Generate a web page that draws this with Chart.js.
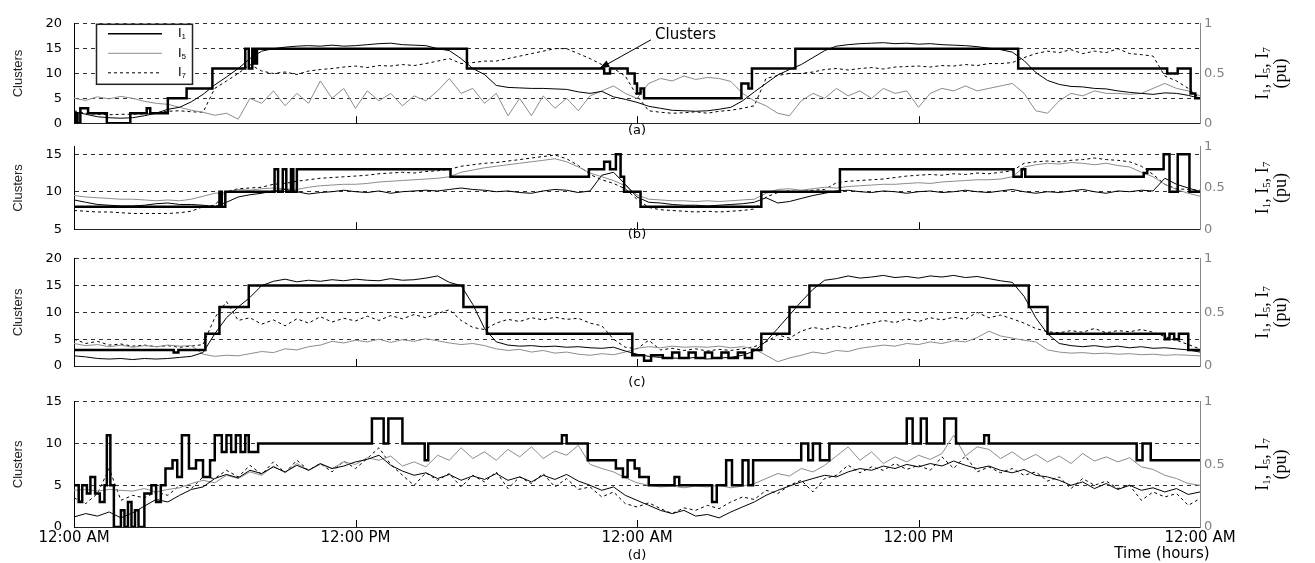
<!DOCTYPE html>
<html lang="en">
<head>
    <meta charset="UTF-8">
    <title>Clusters and harmonic currents</title>
    <script src="https://cdn.jsdelivr.net/npm/chart.js"></script>
    <style>
        body { margin: 0; background: #fff; }
        #wrap { position: relative; width: 1315px; height: 563px; overflow: hidden; }
        #wrap canvas { position: absolute; left: 0; }
    </style>
</head>
<body>
<div id="wrap">
    <canvas id="chartA" width="1315" height="139" style="top:4px"></canvas>
    <canvas id="chartB" width="1315" height="122" style="top:127px"></canvas>
    <canvas id="chartC" width="1315" height="153" style="top:239px"></canvas>
    <canvas id="chartD" width="1315" height="181" style="top:382px"></canvas>
</div>
<script>
    // time axis (hours from the first midnight)
    var hours = [0,0.5,1,1.5,2,2.5,3,3.5,4,4.5,5,5.5,6,6.5,7,7.5,8,8.5,9,9.5,10,10.5,11,11.5,
        12,12.5,13,13.5,14,14.5,15,15.5,16,16.5,17,17.5,18,18.5,19,19.5,20,20.5,21,21.5,22,22.5,23,23.5,
        24,24.5,25,25.5,26,26.5,27,27.5,28,28.5,29,29.5,30,30.5,31,31.5,32,32.5,33,33.5,34,34.5,35,35.5,
        36,36.5,37,37.5,38,38.5,39,39.5,40,40.5,41,41.5,42,42.5,43,43.5,44,44.5,45,45.5,46,46.5,47,47.5,48];
    var timeTicks = [0, 12, 24, 36, 48];
    var timeTickLabels = ["12:00 AM", "12:00 PM", "12:00 AM", "12:00 PM", "12:00 AM"];
    var puTicks = [0, 0.5, 1];
    var panelLetters = ["(a)", "(b)", "(c)", "(d)"];

    var aClusterTicks = [0, 5, 10, 15, 20];
    var bClusterTicks = [5, 10, 15];
    var cClusterTicks = [0, 5, 10, 15, 20];
    var dClusterTicks = [0, 5, 10, 15];

    // clusters: [hour, count] change points
    var aClusters = [[0,0],[0.05,2],[0.15,0],[0.27,3],[0.6,2],[1.4,0],[2.4,2],[3.1,3],[3.25,2],[4.0,5],[4.8,7],
        [5.9,11],[7.3,15],[7.45,11],[7.6,15],[7.7,12],[7.8,15],[16.75,11],[22.6,10],[22.85,11],[23.6,10],[23.9,8],
        [24.0,6],[24.15,7],[24.3,5],[28.45,8],[28.75,7],[28.9,11],[30.75,15],[40.25,11],[46.6,10],[47.05,11],
        [47.6,6],[47.8,5],[48,5]];
    var bClusters = [[0,8],[6.2,10],[6.3,8],[6.45,10],[8.55,13],[8.7,10],[8.9,13],[9.05,10],[9.25,13],[9.35,10],
        [9.5,13],[16.05,12],[21.95,13],[22.6,14],[22.85,13],[23.1,15],[23.3,12],[23.45,10],[24.15,8],[29.3,10],
        [32.65,13],[40.05,12],[40.4,13],[40.55,12],[45.6,12.5],[45.75,13],[46.45,15],[46.7,10],[47.05,15],
        [47.55,10],[48,10]];
    var cClusters = [[0,3],[4.25,2.5],[4.45,3],[5.6,6],[6.2,11],[7.45,15],[16.6,11],[17.6,6],[23.8,2],[24.3,1],
        [24.6,2],[25.1,1.5],[25.5,2.5],[25.8,1.5],[26.2,2.5],[26.5,1.5],[26.9,2.5],[27.2,1.5],[27.6,2.5],[27.9,1.5],
        [28.3,2.5],[28.6,1.5],[28.9,3],[29.3,6],[30.5,11],[31.35,15],[40.7,11],[41.5,6],[46.5,5],[46.7,6],[46.9,5],
        [47.1,6],[47.5,3],[48,3]];
    var dClusters = [[0,5],[0.2,3],[0.35,5],[0.55,4],[0.7,6],[0.9,4],[1.1,3],[1.3,5],[1.4,11],[1.55,5],[1.7,0],
        [2.0,2],[2.15,0],[2.3,3],[2.45,0],[2.6,2],[2.75,0],[3.0,4],[3.3,5],[3.5,3],[3.7,5],[3.9,7],[4.2,8],[4.4,6],
        [4.6,11],[4.9,7],[5.2,8],[5.5,6],[5.8,8],[6.0,11],[6.3,9],[6.5,11],[6.7,9],[6.9,11],[7.1,9],[7.3,11],
        [7.45,9],[7.85,10],[12.7,13],[13.2,10],[13.4,13],[14.0,10],[14.95,8],[15.1,10],[20.8,11],[21.0,10],
        [21.9,8],[23.1,7],[23.4,6],[23.6,8],[23.9,7],[24.1,6],[24.5,5],[25.6,6],[25.8,5],[27.2,3],[27.4,5],
        [27.8,8],[28.05,5],[28.5,8],[28.75,5],[28.95,8],[31.0,10],[31.3,8],[31.5,10],[31.8,8],[32.2,10],
        [35.5,13],[35.75,10],[36.1,13],[36.35,10],[37.1,13],[37.6,10],[38.8,11],[39.0,10],[45.3,8],[45.55,10],
        [45.9,8],[48,8]];

    // currents in pu, one value per half hour
    var aI1 = [0.115,0.09,0.065,0.055,0.05,0.055,0.075,0.10,0.14,0.16,0.215,0.29,
        0.385,0.465,0.55,0.65,0.725,0.75,0.765,0.775,0.78,0.775,0.785,0.775,
        0.78,0.79,0.80,0.805,0.79,0.785,0.78,0.75,0.73,0.65,0.55,0.49,
        0.38,0.36,0.355,0.35,0.35,0.345,0.34,0.315,0.30,0.32,0.265,0.24,
        0.21,0.17,0.15,0.13,0.125,0.12,0.125,0.14,0.16,0.225,0.315,0.40,
        0.485,0.54,0.59,0.66,0.73,0.775,0.79,0.80,0.805,0.81,0.80,0.805,
        0.795,0.80,0.79,0.785,0.78,0.77,0.755,0.74,0.715,0.63,0.51,0.43,
        0.39,0.37,0.365,0.35,0.345,0.325,0.31,0.30,0.29,0.305,0.30,0.28,0.25];
    var aI5 = [0.25,0.23,0.265,0.245,0.27,0.25,0.22,0.20,0.19,0.16,0.13,0.11,
        0.08,0.10,0.04,0.25,0.20,0.325,0.175,0.30,0.20,0.425,0.25,0.35,
        0.15,0.325,0.225,0.30,0.175,0.275,0.225,0.325,0.45,0.30,0.35,0.20,
        0.30,0.075,0.25,0.075,0.275,0.15,0.25,0.125,0.275,0.325,0.375,0.30,
        0.25,0.40,0.45,0.425,0.475,0.44,0.46,0.45,0.42,0.30,0.225,0.175,
        0.10,0.075,0.225,0.30,0.25,0.35,0.275,0.325,0.25,0.35,0.30,0.325,
        0.16,0.30,0.35,0.325,0.375,0.325,0.35,0.375,0.40,0.30,0.125,0.10,
        0.225,0.30,0.275,0.325,0.30,0.30,0.29,0.30,0.35,0.40,0.35,0.325,0.275];
    var aI7 = [0.125,0.10,0.09,0.085,0.09,0.09,0.095,0.105,0.12,0.125,0.115,0.11,
        0.35,0.425,0.50,0.59,0.525,0.50,0.515,0.49,0.525,0.54,0.55,0.565,
        0.575,0.56,0.58,0.575,0.59,0.58,0.60,0.625,0.65,0.60,0.61,0.625,
        0.625,0.65,0.675,0.70,0.725,0.75,0.75,0.70,0.65,0.59,0.55,0.475,
        0.275,0.125,0.11,0.10,0.105,0.115,0.10,0.12,0.13,0.15,0.175,0.45,
        0.48,0.50,0.50,0.515,0.54,0.55,0.535,0.55,0.56,0.545,0.565,0.57,
        0.575,0.565,0.58,0.575,0.59,0.58,0.60,0.60,0.61,0.66,0.70,0.725,
        0.71,0.74,0.70,0.725,0.71,0.75,0.70,0.69,0.675,0.475,0.425,0.35,0.25];

    var bI1 = [0.355,0.327,0.30,0.291,0.282,0.282,0.291,0.309,0.318,0.30,0.30,0.291,
        0.273,0.327,0.391,0.418,0.436,0.464,0.482,0.455,0.427,0.445,0.455,0.473,
        0.455,0.445,0.464,0.436,0.455,0.464,0.473,0.464,0.482,0.50,0.482,0.473,
        0.455,0.464,0.445,0.436,0.464,0.482,0.473,0.445,0.464,0.655,0.691,0.545,
        0.391,0.327,0.318,0.30,0.291,0.291,0.282,0.291,0.30,0.309,0.327,0.382,
        0.318,0.336,0.373,0.409,0.436,0.464,0.473,0.455,0.445,0.464,0.455,0.436,
        0.455,0.464,0.445,0.455,0.473,0.455,0.445,0.464,0.482,0.455,0.436,0.455,
        0.445,0.464,0.482,0.455,0.436,0.464,0.455,0.473,0.464,0.618,0.545,0.50,0.455];
    var bI5 = [0.409,0.391,0.382,0.373,0.364,0.364,0.355,0.345,0.355,0.345,0.364,0.40,
        0.436,0.445,0.482,0.473,0.491,0.50,0.491,0.482,0.509,0.527,0.536,0.545,
        0.545,0.555,0.573,0.582,0.591,0.60,0.609,0.618,0.636,0.691,0.718,0.745,
        0.764,0.782,0.80,0.818,0.836,0.855,0.818,0.755,0.682,0.636,0.591,0.527,
        0.418,0.364,0.355,0.345,0.345,0.336,0.345,0.336,0.345,0.355,0.364,0.436,
        0.482,0.491,0.473,0.491,0.509,0.50,0.518,0.527,0.536,0.545,0.545,0.555,
        0.564,0.555,0.573,0.582,0.591,0.60,0.60,0.609,0.636,0.755,0.782,0.80,
        0.791,0.809,0.80,0.782,0.80,0.773,0.755,0.691,0.636,0.545,0.482,0.436,0.40];
    var bI7 = [0.227,0.218,0.209,0.209,0.20,0.191,0.191,0.191,0.191,0.20,0.218,0.273,
        0.291,0.455,0.491,0.50,0.509,0.545,0.555,0.582,0.60,0.618,0.627,0.636,
        0.645,0.655,0.673,0.682,0.691,0.682,0.70,0.709,0.727,0.764,0.782,0.80,
        0.809,0.827,0.845,0.864,0.882,0.90,0.855,0.773,0.664,0.60,0.555,0.491,
        0.364,0.264,0.236,0.227,0.218,0.209,0.218,0.209,0.218,0.227,0.245,0.391,
        0.445,0.464,0.455,0.473,0.482,0.564,0.582,0.591,0.60,0.609,0.627,0.645,
        0.655,0.664,0.655,0.673,0.664,0.682,0.673,0.691,0.709,0.80,0.818,0.827,
        0.818,0.836,0.845,0.864,0.845,0.836,0.818,0.764,0.664,0.545,0.491,0.482,0.473];

    var cI1 = [0.095,0.085,0.07,0.065,0.07,0.06,0.07,0.065,0.07,0.08,0.09,0.125,
        0.30,0.45,0.55,0.64,0.75,0.79,0.81,0.785,0.80,0.79,0.805,0.795,
        0.81,0.80,0.795,0.815,0.80,0.805,0.82,0.84,0.78,0.75,0.575,0.35,
        0.225,0.195,0.185,0.19,0.18,0.185,0.175,0.18,0.17,0.165,0.175,0.14,
        0.11,0.09,0.08,0.075,0.07,0.08,0.065,0.075,0.08,0.10,0.14,0.23,
        0.35,0.475,0.60,0.715,0.80,0.815,0.84,0.82,0.83,0.845,0.825,0.835,
        0.82,0.84,0.83,0.845,0.825,0.835,0.815,0.795,0.78,0.65,0.45,0.30,
        0.21,0.19,0.18,0.19,0.175,0.185,0.17,0.18,0.165,0.17,0.16,0.15,0.13];
    var cI5 = [0.21,0.19,0.20,0.18,0.195,0.175,0.19,0.18,0.195,0.185,0.19,0.11,
        0.09,0.10,0.095,0.115,0.135,0.125,0.16,0.15,0.18,0.195,0.23,0.215,
        0.24,0.225,0.25,0.22,0.245,0.23,0.255,0.235,0.215,0.20,0.21,0.19,
        0.16,0.145,0.155,0.13,0.145,0.12,0.13,0.11,0.10,0.115,0.105,0.13,
        0.165,0.18,0.17,0.185,0.175,0.18,0.175,0.185,0.17,0.18,0.16,0.10,
        0.04,0.075,0.10,0.13,0.115,0.145,0.135,0.165,0.18,0.195,0.185,0.21,
        0.20,0.225,0.21,0.235,0.225,0.265,0.325,0.28,0.26,0.24,0.225,0.15,
        0.13,0.12,0.125,0.115,0.12,0.11,0.115,0.105,0.11,0.10,0.105,0.10,0.095];
    var cI7 = [0.25,0.21,0.23,0.195,0.205,0.185,0.195,0.18,0.19,0.175,0.185,0.20,
        0.45,0.60,0.425,0.45,0.39,0.43,0.375,0.44,0.40,0.46,0.41,0.445,
        0.42,0.465,0.425,0.47,0.44,0.48,0.45,0.49,0.525,0.425,0.36,0.34,
        0.40,0.435,0.415,0.45,0.43,0.455,0.435,0.445,0.40,0.375,0.25,0.175,
        0.16,0.24,0.15,0.165,0.145,0.16,0.14,0.155,0.145,0.16,0.18,0.225,
        0.29,0.26,0.325,0.36,0.34,0.375,0.35,0.38,0.40,0.425,0.405,0.44,
        0.415,0.45,0.43,0.455,0.435,0.50,0.45,0.475,0.44,0.40,0.35,0.32,
        0.31,0.33,0.315,0.35,0.31,0.33,0.32,0.34,0.315,0.275,0.24,0.20,0.16];

    var dI1 = [0.08,0.107,0.087,0.12,0.073,0.113,0.167,0.22,0.20,0.253,0.30,0.32,
        0.387,0.42,0.393,0.453,0.427,0.48,0.44,0.493,0.453,0.507,0.467,0.487,
        0.52,0.54,0.573,0.493,0.447,0.413,0.433,0.387,0.42,0.373,0.407,0.38,
        0.427,0.373,0.40,0.36,0.413,0.38,0.42,0.367,0.333,0.293,0.32,0.253,
        0.213,0.173,0.133,0.107,0.133,0.087,0.10,0.073,0.12,0.16,0.20,0.253,
        0.293,0.327,0.36,0.387,0.413,0.40,0.44,0.467,0.453,0.487,0.467,0.50,
        0.48,0.507,0.487,0.527,0.493,0.467,0.487,0.453,0.433,0.46,0.413,0.40,
        0.373,0.333,0.36,0.307,0.347,0.30,0.333,0.293,0.313,0.28,0.307,0.26,0.28];
    var dI5 = [0.293,0.30,0.287,0.30,0.293,0.287,0.307,0.28,0.30,0.313,0.347,0.373,
        0.353,0.413,0.387,0.44,0.413,0.487,0.433,0.507,0.453,0.50,0.467,0.52,
        0.50,0.553,0.533,0.567,0.487,0.52,0.48,0.573,0.533,0.633,0.547,0.60,
        0.533,0.62,0.56,0.64,0.547,0.607,0.573,0.653,0.50,0.467,0.44,0.393,
        0.353,0.333,0.32,0.327,0.313,0.327,0.32,0.333,0.313,0.327,0.347,0.387,
        0.427,0.407,0.467,0.44,0.493,0.567,0.64,0.533,0.60,0.507,0.56,0.52,
        0.573,0.54,0.587,0.733,0.567,0.64,0.62,0.547,0.60,0.533,0.58,0.52,
        0.567,0.507,0.587,0.527,0.56,0.52,0.553,0.48,0.46,0.413,0.387,0.347,0.333];
    var dI7 = [0.233,0.187,0.267,0.467,0.213,0.253,0.233,0.28,0.253,0.333,0.307,0.40,
        0.387,0.453,0.40,0.493,0.42,0.52,0.433,0.533,0.453,0.507,0.44,0.527,
        0.467,0.547,0.633,0.50,0.413,0.333,0.433,0.373,0.427,0.32,0.413,0.36,
        0.44,0.307,0.40,0.347,0.427,0.32,0.387,0.30,0.32,0.24,0.28,0.187,
        0.16,0.193,0.147,0.107,0.153,0.133,0.173,0.147,0.20,0.24,0.22,0.293,
        0.267,0.333,0.373,0.28,0.387,0.413,0.493,0.433,0.48,0.453,0.507,0.46,
        0.493,0.453,0.56,0.467,0.567,0.44,0.48,0.433,0.467,0.413,0.44,0.367,
        0.40,0.307,0.387,0.333,0.367,0.307,0.333,0.213,0.28,0.24,0.267,0.173,0.227];

    var SERIF = "'Liberation Serif', 'Times New Roman', serif";
    var SANS = "'DejaVu Sans', sans-serif";
    var currentParts = [["I", 0], ["1", 1], [", ", 0], ["I", 0], ["5", 1], [", ", 0], ["I", 0], ["7", 1]];
    var legendRows = [
        { parts: [["I", 0], ["1", 1]], color: "#000", width: 1.5, dash: [] },
        { parts: [["I", 0], ["5", 1]], color: "#8c8c8c", width: 1, dash: [] },
        { parts: [["I", 0], ["7", 1]], color: "#000", width: 1, dash: [3, 3] }
    ];

    Chart.defaults.font.family = SANS;
    Chart.defaults.color = "#000";

    function drawSubText(ctx, parts, x, y, size, family, centered) {
        var subSize = Math.round(size * 0.62);
        var total = 0;
        parts.forEach(function (p) {
            ctx.font = (p[1] ? subSize : size) + "px " + family;
            total += ctx.measureText(p[0]).width;
        });
        var cx = centered ? x - total / 2 : x;
        ctx.textAlign = "left";
        parts.forEach(function (p) {
            ctx.font = (p[1] ? subSize : size) + "px " + family;
            ctx.fillText(p[0], cx, p[1] ? y + size * 0.24 : y);
            cx += ctx.measureText(p[0]).width;
        });
    }

    function setTicks(values) {
        return function (scale) {
            scale.ticks = values.map(function (v) { return { value: v }; });
        };
    }

    function extrasPlugin(extra) {
        return {
            id: "panelExtras",
            afterDraw: function (chart) {
                var ctx = chart.ctx, area = chart.chartArea, x = chart.scales.x;
                ctx.save();
                ctx.strokeStyle = "#000";
                ctx.lineWidth = 1;
                timeTicks.slice(1, -1).forEach(function (v) {
                    var px = Math.round(x.getPixelForValue(v)) + 0.5;
                    ctx.beginPath();
                    ctx.moveTo(px, area.bottom);
                    ctx.lineTo(px, area.bottom - 7);
                    ctx.stroke();
                });
                var cy = (area.top + area.bottom) / 2;
                ctx.fillStyle = "#000";
                ctx.textBaseline = "middle";
                ctx.translate(1263, cy);
                ctx.rotate(-Math.PI / 2);
                drawSubText(ctx, currentParts, 0, 0, 18, SERIF, true);
                ctx.font = "18px " + SERIF;
                ctx.textAlign = "center";
                ctx.fillText("(pu)", 0, 18);
                ctx.restore();
                if (extra) extra(chart);
            }
        };
    }

    function drawLegendAndNote(chart) {
        var ctx = chart.ctx, area = chart.chartArea;
        var bx = area.left + 22, by = area.top;
        ctx.save();
        ctx.fillStyle = "#fff";
        ctx.fillRect(bx, by, 97, 61);
        ctx.strokeStyle = "#222";
        ctx.lineWidth = 1.5;
        ctx.strokeRect(bx + 0.5, by + 0.5, 96, 60);
        ctx.textBaseline = "middle";
        legendRows.forEach(function (row, i) {
            var ly = by + 10 + i * 19.5;
            ctx.strokeStyle = row.color;
            ctx.lineWidth = row.width;
            ctx.setLineDash(row.dash);
            ctx.beginPath();
            ctx.moveTo(bx + 12, ly);
            ctx.lineTo(bx + 66, ly);
            ctx.stroke();
            ctx.setLineDash([]);
            ctx.fillStyle = "#000";
            drawSubText(ctx, row.parts, bx + 82, ly, 13, "'Liberation Sans', Arial, sans-serif", false);
        });

        // "Clusters" note with arrow onto the step line
        var tx = chart.scales.x.getPixelForValue(22.4);
        var ty = chart.scales.y.getPixelForValue(11);
        var sx = 651, sy = area.top + 16;
        ctx.font = "15px " + SANS;
        ctx.textAlign = "left";
        ctx.fillText("Clusters", 655, area.top + 11);
        ctx.strokeStyle = "#000";
        ctx.lineWidth = 1;
        ctx.beginPath();
        ctx.moveTo(sx, sy);
        ctx.lineTo(tx, ty);
        ctx.stroke();
        var ang = Math.atan2(ty - sy, tx - sx);
        ctx.beginPath();
        ctx.moveTo(tx, ty);
        ctx.lineTo(tx - 10 * Math.cos(ang) + 3.5 * Math.sin(ang), ty - 10 * Math.sin(ang) - 3.5 * Math.cos(ang));
        ctx.lineTo(tx - 10 * Math.cos(ang) - 3.5 * Math.sin(ang), ty - 10 * Math.sin(ang) + 3.5 * Math.cos(ang));
        ctx.closePath();
        ctx.fill();
        ctx.restore();
    }

    function drawTimeLabel(chart) {
        var ctx = chart.ctx, area = chart.chartArea;
        ctx.save();
        ctx.fillStyle = "#000";
        ctx.font = "15px " + SANS;
        ctx.textAlign = "center";
        ctx.textBaseline = "middle";
        ctx.fillText("Time (hours)", 1162, area.bottom + 27);
        ctx.restore();
    }

    function buildPanel(canvasId, p) {
        var series = function (values) {
            return hours.map(function (h, i) { return { x: h, y: values[i] }; });
        };
        return new Chart(document.getElementById(canvasId), {
            type: "line",
            data: {
                datasets: [
                    { label: "Clusters", data: p.clusters.map(function (c) { return { x: c[0], y: c[1] }; }),
                        yAxisID: "y", stepped: true, borderColor: "#000", borderWidth: 2.5 },
                    { label: "I1", data: series(p.i1), yAxisID: "y1", borderColor: "#000", borderWidth: 1 },
                    { label: "I5", data: series(p.i5), yAxisID: "y1", borderColor: "#8c8c8c", borderWidth: 1 },
                    { label: "I7", data: series(p.i7), yAxisID: "y1", borderColor: "#000", borderWidth: 1, borderDash: [3, 3] }
                ]
            },
            options: {
                responsive: false,
                animation: false,
                devicePixelRatio: 1,
                events: [],
                layout: { padding: { top: 10, left: 0, right: 0, bottom: 0 } },
                elements: { point: { radius: 0 }, line: { tension: 0 } },
                plugins: { legend: { display: false }, tooltip: { enabled: false } },
                scales: {
                    x: {
                        type: "linear", min: 0, max: 48,
                        afterBuildTicks: setTicks(timeTicks),
                        afterFit: function (s) { s.height = p.bottomPad; },
                        grid: { display: false, drawTicks: false },
                        border: { display: true, color: "#222", width: 1 },
                        ticks: {
                            display: p.showTime, padding: 2, autoSkip: false, maxRotation: 0,
                            font: { size: 15 }, color: "#000",
                            callback: function (v, i) { return timeTickLabels[i]; }
                        },
                        title: { display: true, text: p.letter, font: { size: 13 }, padding: { top: 0, bottom: p.letterPad } }
                    },
                    y: {
                        position: "left", min: p.min, max: p.max,
                        afterBuildTicks: setTicks(p.ticks),
                        afterFit: function (s) { s.width = 74; },
                        grid: { color: "#333", lineWidth: 1, drawTicks: false },
                        border: { display: true, color: "#000", width: 1, dash: [4, 4] },
                        ticks: { padding: 12, font: { size: 13 }, color: "#000" },
                        title: { display: true, text: "Clusters", color: "#222",
                            font: { family: "'Liberation Sans', Arial, sans-serif", size: 13 },
                            padding: { top: 11, bottom: 0 } }
                    },
                    y1: {
                        position: "right", min: 0, max: 1,
                        afterBuildTicks: setTicks(puTicks),
                        afterFit: function (s) { s.width = 115; },
                        grid: { drawOnChartArea: false, drawTicks: false },
                        border: { display: true, color: "#888", width: 1 },
                        ticks: { padding: 4, font: { size: 13 }, color: "#808080",
                            callback: function (v) { return String(v); } }
                    }
                }
            },
            plugins: [extrasPlugin(p.extra)]
        });
    }

    buildPanel("chartA", { clusters: aClusters, i1: aI1, i5: aI5, i7: aI7, min: 0, max: 20, ticks: aClusterTicks,
        letter: panelLetters[0], bottomPad: 16, letterPad: 1, showTime: false, extra: drawLegendAndNote });
    buildPanel("chartB", { clusters: bClusters, i1: bI1, i5: bI5, i7: bI7, min: 5, max: 16, ticks: bClusterTicks,
        letter: panelLetters[1], bottomPad: 14, letterPad: 1, showTime: false });
    buildPanel("chartC", { clusters: cClusters, i1: cI1, i5: cI5, i7: cI7, min: 0, max: 20, ticks: cClusterTicks,
        letter: panelLetters[2], bottomPad: 26, letterPad: 2, showTime: false });
    buildPanel("chartD", { clusters: dClusters, i1: dI1, i5: dI5, i7: dI7, min: 0, max: 15, ticks: dClusterTicks,
        letter: panelLetters[3], bottomPad: 36, letterPad: 0, showTime: true, extra: drawTimeLabel });
</script>
</body>
</html>
